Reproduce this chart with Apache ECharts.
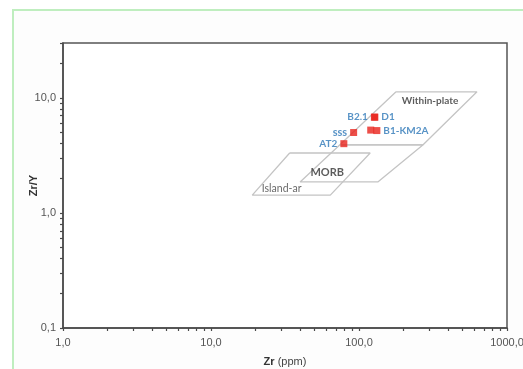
<!DOCTYPE html>
<html>
<head>
<meta charset="utf-8">
<script src="https://cdn.jsdelivr.net/npm/echarts@6/dist/echarts.min.js"></script>
<style>
  html, body { margin: 0; padding: 0; background: #fff; }
  #frame { position: absolute; left: 12px; top: 9px; width: 600px; height: 400px;
           border: 2px solid #bfeebf; background: #fdfdfd; }
  #layout { position: absolute; left: 0; top: 0; width: 523px; height: 369px; }
</style>
</head>
<body>
<div id="frame"></div>
<div id="layout"></div>
<script>
// field outlines (Zr ppm, Zr/Y)
const withinPlate = [[178, 11.3], [627, 11.3], [270, 3.9], [74, 3.9], [178, 11.3]];
const morb = [[74, 3.9], [270, 3.9], [134, 1.86], [40, 1.86], [74, 3.9]];
const islandArc = [[34, 3.32], [119, 3.32], [64, 1.43], [19, 1.43], [34, 3.32]];

// field names and where they sit
const fieldNames = ['Within-plate', 'MORB', 'Island-ar'];
const fieldAt = [[302, 9.4], [61, 2.27], [30, 1.62]];

// samples
const sampleNames = ['B2.1', 'D1', 'sss', 'B1', 'KM2A', 'AT2'];
const sampleZr = [127, 128, 92, 120, 132, 79];
const sampleZrY = [6.8, 6.8, 5.0, 5.25, 5.2, 4.0];

// axis ticks / labels
const xLabels = [1, 10, 100, 1000];
const yLabels = [0.1, 1, 10];
const xTicks = [1, 2, 3, 4, 5, 6, 7, 8, 9, 10, 20, 30, 40, 50, 60, 70, 80, 90,
                100, 200, 300, 400, 500, 600, 700, 800, 900, 1000];
const yTicks = [0.1, 0.2, 0.3, 0.4, 0.5, 0.6, 0.7, 0.8, 0.9, 1, 2, 3, 4, 5, 6, 7, 8, 9, 10, 20, 30];

let myChart = echarts.init(document.getElementById('layout'));

function fmt(v) {
    return Number(v).toFixed(1).replace('.', ',');
}

const labelSet = {
    'B2.1': { position: 'left' },
    'D1': { position: 'right' },
    'sss': { position: 'left', fontSize: 11 },
    'B1': { show: false },
    'KM2A': { position: 'right', formatter: 'B1-KM2A' },
    'AT2': { position: 'left' }
};

let samples = sampleNames.map(function (n, i) {
    return {
        name: n,
        value: [sampleZr[i], sampleZrY[i]],
        label: Object.assign({ show: true }, labelSet[n])
    };
});

let fields = fieldNames.map(function (n, i) {
    return { name: n, value: fieldAt[i] };
});

function outline(data) {
    return {
        type: 'line',
        data: data,
        symbol: 'none',
        silent: true,
        z: 1,
        lineStyle: { color: '#c4c4c4', width: 1.3 }
    };
}

let axisCommon = {
    type: 'log',
    logBase: 10,
    nameMoveOverlap: false,
    axisLine: { show: true, lineStyle: { color: '#4a4a4a', width: 1.5 } },
    splitLine: { show: false },
    axisLabel: { color: '#555', fontSize: 11, fontFamily: 'Liberation Sans', formatter: fmt },
    axisTick: { show: true, length: 3, lineStyle: { color: '#4a4a4a', width: 1.2 } }
};

let option = {
    animation: false,
    grid: {
        left: 63, top: 43, right: 16, bottom: 41,
        outerBoundsMode: 'none',
        show: true, borderColor: '#555', borderWidth: 1.5, backgroundColor: '#fff'
    },
    xAxis: Object.assign({}, axisCommon, {
        min: 1, max: 1000,
        name: '{b|Zr} (ppm)',
        nameLocation: 'middle',
        nameGap: 28,
        nameTextStyle: {
            color: '#444', fontSize: 11, fontFamily: 'Liberation Sans',
            rich: { b: { fontWeight: 'bold', fontSize: 11, color: '#333', fontFamily: 'Liberation Sans' } }
        },
        axisLabel: Object.assign({}, axisCommon.axisLabel, { customValues: xLabels, margin: 9 }),
        axisTick: Object.assign({}, axisCommon.axisTick, { customValues: xTicks })
    }),
    yAxis: Object.assign({}, axisCommon, {
        min: 0.1, max: 30,
        name: 'Zr/Y',
        nameLocation: 'middle',
        nameGap: 24,
        nameRotate: 90,
        nameTextStyle: { color: '#333', fontSize: 11, fontWeight: 'bold', fontFamily: 'Liberation Sans' },
        axisLabel: Object.assign({}, axisCommon.axisLabel, { customValues: yLabels, margin: 7 }),
        axisTick: Object.assign({}, axisCommon.axisTick, { customValues: yTicks })
    }),
    series: [
        outline(withinPlate),
        outline(morb),
        outline(islandArc),
        {
            type: 'scatter',
            data: fields,
            symbolSize: 0,
            silent: true,
            label: {
                show: true,
                position: 'inside',
                formatter: '{b}',
                fontFamily: 'Lato',
                fontSize: 10,
                fontWeight: 'bold',
                color: '#333'
            },
            z: 2
        },
        {
            type: 'scatter',
            data: samples,
            symbol: 'rect',
            symbolSize: 7,
            itemStyle: { color: '#e8231c' },
            label: {
                formatter: '{b}',
                fontFamily: 'Lato',
                fontSize: 10,
                fontWeight: 'bold',
                color: '#2e78b8',
                distance: 3
            },
            z: 3
        }
    ]
};
// Island-arc label is plain weight, MORB bigger
option.series[3].data[1].label = { fontSize: 11 };
option.series[3].data[2].label = { fontWeight: 'normal', color: '#444', fontSize: 10.5 };
myChart.setOption(option);
</script>
</body>
</html>
